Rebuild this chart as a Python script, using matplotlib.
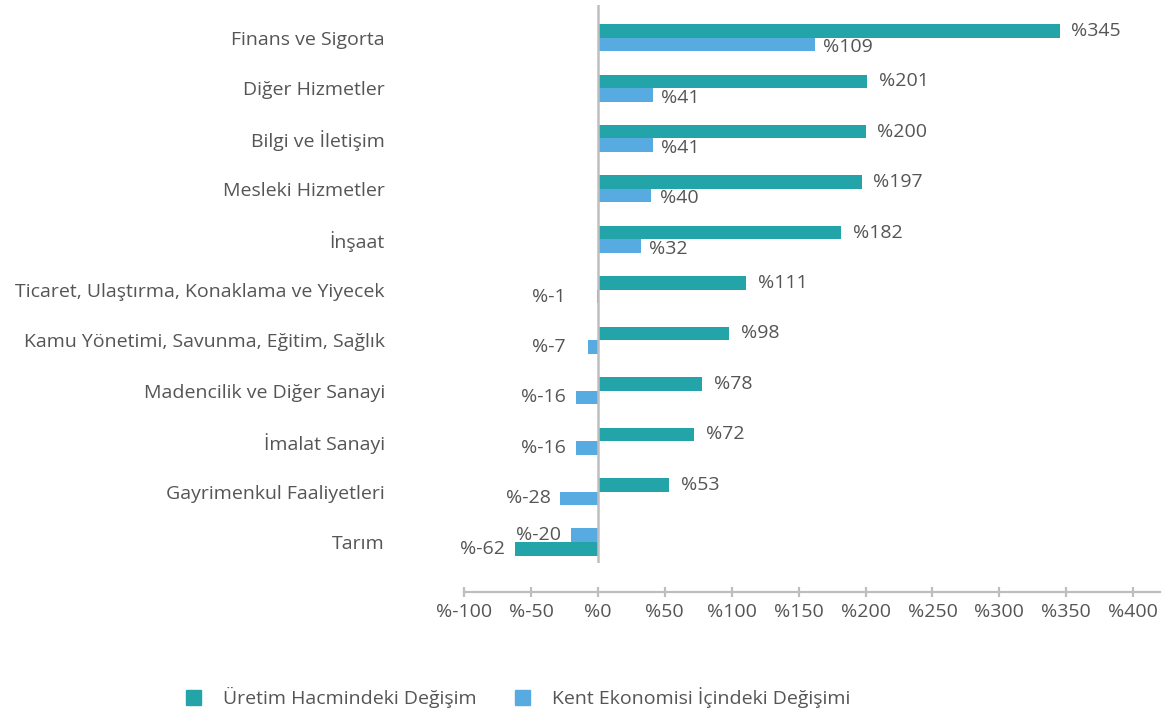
import matplotlib.pyplot as plt
from matplotlib.patches import Patch
import numpy as np

plt.rcParams['font.family'] = ['Open Sans', 'DejaVu Sans']
plt.rcParams['font.weight'] = 'medium'

categories = ['Finans ve Sigorta', 'Diğer Hizmetler', 'Bilgi ve İletişim',
              'Mesleki Hizmetler', 'İnşaat',
              'Ticaret, Ulaştırma, Konaklama ve Yiyecek',
              'Kamu Yönetimi, Savunma, Eğitim, Sağlık',
              'Madencilik ve Diğer Sanayi', 'İmalat Sanayi',
              'Gayrimenkul Faaliyetleri', 'Tarım']
uretim = [345, 201, 200, 197, 182, 111, 98, 78, 72, 53, -62]
kent_labels = [109, 41, 41, 40, 32, -1, -7, -16, -16, -28, -20]
# bar lengths as drawn in the source (the Finans bar is drawn longer than its label)
kent_bars = [162, 41, 41, 40, 32, -1, -7, -16, -16, -28, -20]
xticks = list(range(-100, 401, 50))

TEAL = '#23A4A9'
BLUE = '#58ABE0'
TXT = '#555555'
GRAY = '#BEBEBE'
FS = 14

fig = plt.figure(figsize=(11.65, 7.12), dpi=100)
ax = fig.add_axes([0.3983, 0.2093, 0.5974, 0.7837])

y = np.arange(len(categories))
h = 0.268
# teal on top, blue below; the Tarım row is drawn the other way round
sign = np.where(np.arange(len(categories)) == len(categories) - 1, 1, -1)
y_teal = y + sign * h / 2
y_blue = y - sign * h / 2

ax.barh(y_teal, uretim, height=h, color=TEAL)
ax.barh(y_blue, kent_bars, height=h, color=BLUE)

def label(xv, yv, val, pos_pad, dy=0):
    if xv >= 0:
        ax.annotate(f'%{val}', (xv, yv), xytext=(pos_pad, dy), textcoords='offset points',
                    ha='left', va='center', color=TXT, fontsize=FS)
    else:
        ax.annotate(f'%{val}', (min(xv, -16.5), yv), xytext=(-7.2, dy),
                    textcoords='offset points', ha='right', va='center',
                    color=TXT, fontsize=FS)

for i in range(len(categories)):
    label(uretim[i], y_teal[i], uretim[i], 8.5)
    label(kent_bars[i], y_blue[i], kent_labels[i], 6, dy=-2 if kent_bars[i] >= 0 else 0)

ax.axvline(0, color=GRAY, lw=1.8, zorder=3)

ax.set_xlim(-100, 420)
ax.set_ylim(10.416, -0.647)
ax.set_xticks(xticks)
ax.set_xticklabels([f'%{t}' for t in xticks])
ax.set_yticks(y)
ax.set_yticklabels(categories)

for s in ['top', 'right', 'left']:
    ax.spines[s].set_visible(False)
ax.spines['bottom'].set_position(('outward', 21))
ax.spines['bottom'].set_color(GRAY)
ax.spines['bottom'].set_linewidth(1.6)
ax.tick_params(axis='x', direction='inout', length=7, width=1.6, color=GRAY,
               labelcolor=TXT, labelsize=FS, pad=4)
ax.tick_params(axis='y', length=0, labelcolor=TXT, labelsize=FS, pad=57)

handles = [Patch(color=TEAL, label='Üretim Hacmindeki Değişim'),
           Patch(color=BLUE, label='Kent Ekonomisi İçindeki Değişimi')]
leg = fig.legend(handles=handles, loc='center', bbox_to_anchor=(0.4446, 0.0197),
                 ncol=2, frameon=False, fontsize=FS, handlelength=0.78,
                 handleheight=0.78, handletextpad=1.13, columnspacing=1.96)
for t in leg.get_texts():
    t.set_color(TXT)

fig.savefig('out.png', dpi=100)
